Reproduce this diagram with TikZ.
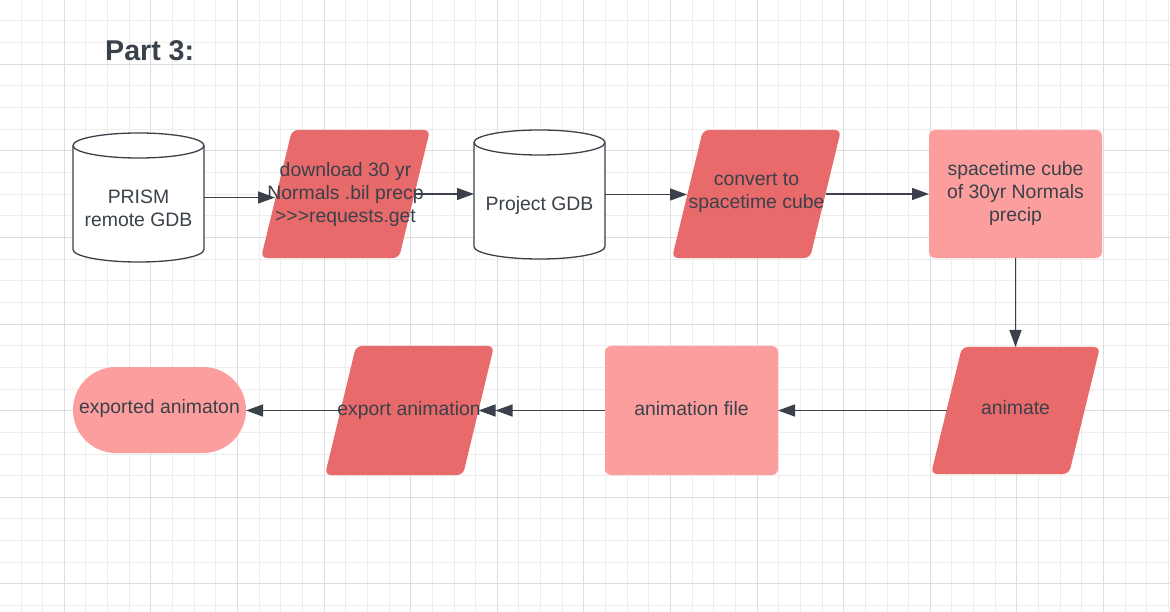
\documentclass[tikz,border=0pt]{standalone}
\usepackage{fontspec}
\setmainfont{Liberation Sans}
\usetikzlibrary{arrows.meta,calc}
\definecolor{ink}{HTML}{3A414A}
\definecolor{pfill}{HTML}{E96A6A}
\definecolor{rfill}{HTML}{FC9E9E}
\definecolor{gridminor}{HTML}{EDEDED}
\definecolor{gridmajor}{HTML}{DDDDDD}
\tikzset{
  shapebox/.style={rectangle, inner sep=0pt, outer sep=0pt, draw=none},
  lbl/.style={text=ink, font=\fontsize{19.4bp}{23bp}\selectfont, align=center, inner sep=0pt},
  arr/.style={draw=ink, line width=1.4bp, -{Triangle[length=17bp,width=12bp]}},
  dblarr/.style={draw=ink, line width=1.4bp, -{Triangle[length=17bp,width=12bp,sep=0pt]Triangle[length=17bp,width=12bp]}},
  cyl/.style={draw=ink, line width=1.3bp, fill=white},
  para/.style={fill=pfill, rounded corners=6bp},
  rbox/.style={shapebox, fill=rfill, rounded corners=6bp}
}
\begin{document}
\begin{tikzpicture}[x=1bp,y=-1bp]
\useasboundingbox (0,0) rectangle (1170,612);
\fill[white] (0,0) rectangle (1170,612);
% grid
\foreach \k in {1,...,54}{\draw[gridminor,line width=1bp] ({-0.65+21.65*\k},0) -- ++(0,612);}
\foreach \k in {1,...,28}{\draw[gridminor,line width=1bp] (0,{-0.65+21.65*\k}) -- ++(1170,0);}
\foreach \k in {3,7,...,51}{\draw[gridmajor,line width=1bp] ({-0.65+21.65*\k},0) -- ++(0,612);}
\foreach \k in {3,7,...,27}{\draw[gridmajor,line width=1bp] (0,{-0.65+21.65*\k}) -- ++(1170,0);}

% title
\node[anchor=base west, inner sep=0pt, text=ink, font=\bfseries\fontsize{28.6bp}{32bp}\selectfont] (title) at (105,61) {Part 3:};

% shapes
\node[shapebox, minimum width=131bp, minimum height=129bp] (prism) at (138.5,197.5) {};
\filldraw[cyl] ($(prism.north west)+(0,12.5)$) -- ($(prism.south west)+(0,-12.5)$)
  arc[start angle=180,end angle=360,x radius=65.5bp,y radius=12.5bp]
  -- ($(prism.north east)+(0,12.5)$)
  arc[start angle=0,end angle=180,x radius=65.5bp,y radius=12.5bp] -- cycle;
\draw[cyl,fill=none] ($(prism.north west)+(0,12.5)$) arc[start angle=180,end angle=360,x radius=65.5bp,y radius=12.5bp];

\node[shapebox, minimum width=169bp, minimum height=128bp] (dl) at (345.5,194) {};
\fill[para] ($(dl.north west)+(31,0)$) -- (dl.north east) -- ($(dl.south east)+(-31,0)$) -- (dl.south west) -- cycle;

\node[shapebox, minimum width=131bp, minimum height=129bp] (gdb) at (539.5,194.5) {};
\filldraw[cyl] ($(gdb.north west)+(0,12.5)$) -- ($(gdb.south west)+(0,-12.5)$)
  arc[start angle=180,end angle=360,x radius=65.5bp,y radius=12.5bp]
  -- ($(gdb.north east)+(0,12.5)$)
  arc[start angle=0,end angle=180,x radius=65.5bp,y radius=12.5bp] -- cycle;
\draw[cyl,fill=none] ($(gdb.north west)+(0,12.5)$) arc[start angle=180,end angle=360,x radius=65.5bp,y radius=12.5bp];

\node[shapebox, minimum width=169bp, minimum height=128bp] (conv) at (756.5,194) {};
\fill[para] ($(conv.north west)+(31,0)$) -- (conv.north east) -- ($(conv.south east)+(-31,0)$) -- (conv.south west) -- cycle;

\node[rbox, minimum width=173bp, minimum height=128bp] (stc) at (1015.5,194) {};

\node[shapebox, minimum width=169bp, minimum height=127bp] (anim) at (1015.5,410.5) {};
\fill[para] ($(anim.north west)+(31,0)$) -- (anim.north east) -- ($(anim.south east)+(-31,0)$) -- (anim.south west) -- cycle;

\node[rbox, minimum width=173bp, minimum height=129bp] (afile) at (691.5,410.5) {};

\node[shapebox, minimum width=169bp, minimum height=129bp] (exp) at (409.5,410.5) {};
\fill[para] ($(exp.north west)+(31,0)$) -- (exp.north east) -- ($(exp.south east)+(-31,0)$) -- (exp.south west) -- cycle;

\node[shapebox, fill=rfill, rounded corners=43bp, minimum width=173bp, minimum height=86bp] (expd) at (159.5,410) {};

% connectors
\draw[arr] (prism.east) -- ([xshift=14bp]prism.east -| dl.west);
\draw[arr] ([xshift=-15bp]dl.east) -- (dl.east -| gdb.west);
\draw[arr] (gdb.east) -- ([xshift=15bp]gdb.east -| conv.west);
\draw[arr] ([xshift=-15bp]conv.east) -- (conv.east -| stc.west);
\draw[arr] (stc.south) -- (anim.north);
\draw[arr] ([xshift=15.5bp]anim.west) -- (anim.west -| afile.east);
\draw[dblarr] (afile.west) -- ([xshift=-15.5bp]afile.west -| exp.east);
\draw[arr] ([xshift=15.5bp]exp.west) -- (exp.west -| expd.east);

% labels
\node[lbl] (tprism) at (138.5,208.5) {PRISM\\remote GDB};
\node[lbl] (tdl) at (345.5,194) {download 30 yr\\Normals .bil precp\\>{}>{}>requests.get};
\node[lbl] (tgdb) at (539.5,205.5) {Project GDB};
\node[lbl] (tconv) at (756.5,193) {convert to\\spacetime cube};
\node[lbl] (tstc) at (1015.5,193.5) {spacetime cube\\of 30yr Normals\\precip};
\node[lbl] (tanim) at (1015.5,408) {animate};
\node[lbl] (tafile) at (691.5,408.3) {animation file};
\node[lbl] (texp) at (409,410) {export animation};
\node[lbl] (texpd) at (159.5,408.3) {exported animaton};
\end{tikzpicture}
\end{document}
